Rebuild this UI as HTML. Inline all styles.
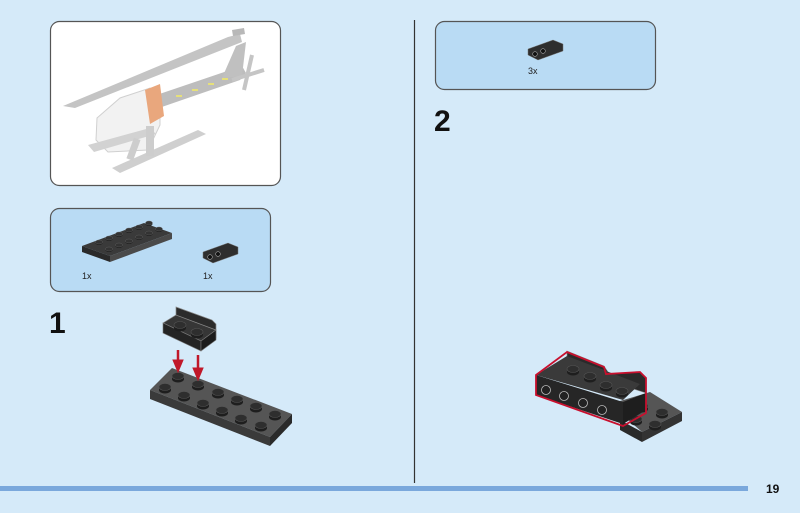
<!DOCTYPE html>
<html><head><meta charset="utf-8"><style>
html,body{margin:0;padding:0}
body{width:800px;height:513px;background:#d5eaf9;position:relative;overflow:hidden;font-family:"Liberation Sans",sans-serif}
</style></head><body>
<svg width="800" height="513" viewBox="0 0 800 513" xmlns="http://www.w3.org/2000/svg" style="position:absolute;left:0;top:0">
<defs>
<g id="stud"><ellipse cx="0" cy="2" rx="6" ry="3.5" fill="#1e1e1e"/><rect x="-6" y="-1" width="12" height="3" fill="#1e1e1e"/><ellipse cx="0" cy="-1" rx="6" ry="3.5" fill="#2e2e2e" stroke="#555" stroke-width="0.6"/></g>
<g id="sstud"><ellipse cx="0" cy="1" rx="3.5" ry="2" fill="#1e1e1e"/><ellipse cx="0" cy="0" rx="3.5" ry="2" fill="#333" stroke="#666" stroke-width="0.4"/></g>
</defs>
<!-- top-left preview box -->
<rect x="50.5" y="21.5" width="230" height="164" rx="9" fill="#fff" stroke="#555" stroke-width="1.2"/>
<g>
<polygon points="63,106 228,37 240,34 242,42 75,108" fill="#c4c4c4"/>
<polygon points="118,108 242,66 246,73 240,80 124,120" fill="#bdbdbd"/>
<polygon points="222,78 236,46 246,42 242,76" fill="#c0c0c0"/>
<polygon points="232,30 244,28 245,34 233,36" fill="#b8b8b8"/>
<polygon points="97,118 120,98 150,88 160,96 160,125 148,150 108,152 96,140" fill="#f2f2f2" stroke="#d0d0d0"/>
<polygon points="145,90 160,84 164,116 150,124" fill="#e9a77d"/>
<polygon points="88,145 150,128 156,134 94,152" fill="#d2d2d2"/>
<polygon points="112,168 198,130 206,134 120,173" fill="#cfcfcf"/>
<rect x="146" y="126" width="8" height="30" fill="#cdcdcd"/>
<rect x="130" y="138" width="7" height="22" fill="#cdcdcd" transform="rotate(20 133 149)"/>
<line x1="232" y1="80" x2="264" y2="70" stroke="#c5c5c5" stroke-width="4"/>
<line x1="252" y1="55" x2="244" y2="90" stroke="#c5c5c5" stroke-width="4"/>
<g fill="#e6e07a"><rect x="176" y="95" width="6" height="2"/><rect x="192" y="89" width="6" height="2"/><rect x="208" y="83" width="6" height="2"/><rect x="222" y="78" width="6" height="2"/></g>
</g>
<!-- parts box 1 -->
<rect x="50.5" y="208.5" width="220" height="83" rx="9" fill="#b9dbf4" stroke="#555" stroke-width="1.2"/>
<polygon points="82,246 144,223 172,233 110,256" fill="#3a3a3a"/>
<polygon points="82,246 110,256 110,262 82,252" fill="#2a2a2a"/>
<polygon points="110,256 172,233 172,239 110,262" fill="#4a4a4a"/>
<g>
<use href="#sstud" x="99" y="242"/><use href="#sstud" x="109" y="238"/><use href="#sstud" x="119" y="234"/><use href="#sstud" x="129" y="230"/><use href="#sstud" x="139" y="227"/><use href="#sstud" x="149" y="223"/>
<use href="#sstud" x="109" y="249"/><use href="#sstud" x="119" y="245"/><use href="#sstud" x="129" y="241"/><use href="#sstud" x="139" y="237"/><use href="#sstud" x="149" y="233"/><use href="#sstud" x="159" y="229"/>
</g>
<polygon points="203,252 228,243 238,247 238,254 213,263 203,258" fill="#2e2e2e" stroke="#777" stroke-width="0.5"/>
<circle cx="210" cy="257" r="2.3" fill="#111" stroke="#aaa" stroke-width="0.6"/><circle cx="218" cy="254" r="2.3" fill="#111" stroke="#aaa" stroke-width="0.6"/>
<text x="82" y="279" font-size="9" fill="#222">1x</text>
<text x="203" y="279" font-size="9" fill="#222">1x</text>
<text x="49" y="333" font-size="30" font-weight="bold" fill="#111">1</text>
<!-- step 1 -->
<polygon points="150,390 172,368 292,414 270,437" fill="#555"/>
<polygon points="150,390 270,437 270,446 150,399" fill="#3a3a3a"/>
<polygon points="270,437 292,414 292,423 270,446" fill="#2a2a2a"/>
<g>
<use href="#stud" x="178" y="377"/><use href="#stud" x="198" y="385"/><use href="#stud" x="218" y="393"/><use href="#stud" x="237" y="400"/><use href="#stud" x="256" y="407"/><use href="#stud" x="275" y="415"/>
<use href="#stud" x="165" y="388"/><use href="#stud" x="184" y="396"/><use href="#stud" x="203" y="404"/><use href="#stud" x="222" y="411"/><use href="#stud" x="241" y="419"/><use href="#stud" x="261" y="426"/>
</g>
<!-- bracket -->
<polygon points="176,307 212,320 216,324 216,338 178,324 176,320" fill="#2b2b2b" stroke="#888" stroke-width="0.7"/>
<polygon points="163,323 176,315 216,330 201,341" fill="#363636" stroke="#888" stroke-width="0.7"/>
<polygon points="163,323 201,341 201,351 163,333" fill="#242424" stroke="#777" stroke-width="0.6"/>
<polygon points="201,341 216,330 216,340 201,351" fill="#1c1c1c" stroke="#777" stroke-width="0.6"/>
<use href="#stud" x="180" y="326"/><use href="#stud" x="197" y="333"/>
<g fill="#c0182a" stroke="#c0182a">
<line x1="178" y1="350" x2="178" y2="362" stroke-width="2.5"/><polygon points="173,360 183,360 178,372"/>
<line x1="198" y1="355" x2="198" y2="370" stroke-width="2.5"/><polygon points="193,368 203,368 198,380"/>
</g>
<!-- divider -->
<line x1="414.5" y1="20" x2="414.5" y2="483" stroke="#333" stroke-width="1.2"/>
<!-- parts box 2 -->
<rect x="435.5" y="21.5" width="220" height="68" rx="9" fill="#b9dbf4" stroke="#555" stroke-width="1.2"/>
<polygon points="528,49 553,40 563,44 563,51 538,60 528,55" fill="#2e2e2e" stroke="#777" stroke-width="0.5"/>
<circle cx="535" cy="54" r="2.3" fill="#111" stroke="#aaa" stroke-width="0.6"/><circle cx="543" cy="51" r="2.3" fill="#111" stroke="#aaa" stroke-width="0.6"/>
<text x="528" y="74" font-size="9" fill="#222">3x</text>
<text x="434" y="131" font-size="30" font-weight="bold" fill="#111">2</text>
<!-- step 2 -->
<polygon points="610,404 650,392 682,412 642,432" fill="#555"/>
<polygon points="620,420 642,432 642,442 620,430" fill="#2a2a2a"/>
<polygon points="642,432 682,412 682,421 642,442" fill="#333"/>
<use href="#stud" x="642" y="407"/><use href="#stud" x="662" y="413"/><use href="#stud" x="636" y="420"/><use href="#stud" x="655" y="425"/>
<polygon points="567,351 604,366 608,372 567,357" fill="#2a2a2a" stroke="#888" stroke-width="0.6"/>
<polygon points="604,374 640,372 646,378 646,393 606,380" fill="#2a2a2a" stroke="#888" stroke-width="0.6"/>
<polygon points="536,375 567,356 640,384 623,400" fill="#3a3a3a"/>
<polygon points="536,375 623,402 623,424 536,395" fill="#262626"/>
<polygon points="623,402 646,393 646,410 623,424" fill="#1e1e1e"/>
<polygon points="536,375 567,352 604,367 606,374 640,372 646,378 646,413 623,426 536,395" fill="none" stroke="#c8102e" stroke-width="1.8"/>
<use href="#stud" x="573" y="370"/><use href="#stud" x="590" y="377"/><use href="#stud" x="606" y="386"/><use href="#stud" x="622" y="392"/>
<g fill="#222" stroke="#bbb" stroke-width="0.8">
<circle cx="546" cy="390" r="4.5"/><circle cx="564" cy="396" r="4.5"/><circle cx="583" cy="403" r="4.5"/><circle cx="602" cy="410" r="4.5"/>
</g>
<!-- footer -->
<rect x="0" y="486" width="748" height="5" fill="#7aa8dc"/>
<text x="766" y="493" font-size="12" font-weight="bold" fill="#111">19</text>
</svg>
</body></html>
